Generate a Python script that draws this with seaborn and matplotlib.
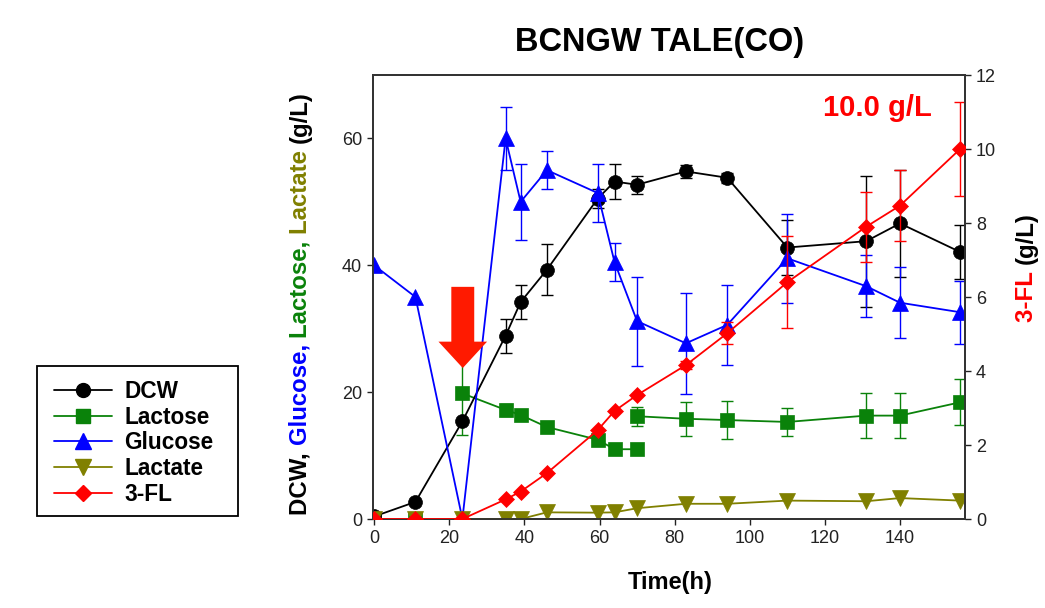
import numpy as np
import pandas as pd
import matplotlib
matplotlib.use("Agg")
import matplotlib.pyplot as plt
from matplotlib.lines import Line2D
from matplotlib.patches import Rectangle
import seaborn as sns

# ---------------- data ----------------
time = [0, 11, 23.5, 35, 39, 46, 59.5, 64, 70, 83, 94, 110, 131, 140, 156]

dcw = [0.4, 2.7, 15.4, 28.9, 34.2, 39.3, 50.5, 53.2, 52.7, 54.8, 53.8, 42.8, 43.8, 46.6, 42.1]
dcw_err = [0, 0, 0, 2.7, 2.7, 4.0, 1.5, 2.7, 1.4, 1.0, 0.8, 4.3, 10.3, 8.4, 4.3]

glucose = [40, 35, 0, 60, 50, 55, 51.4, 40.5, 31.2, 27.7, 30.6, 41.1, 36.7, 34.1, 32.6]
glucose_err = [0, 0, 0, 4.9, 6.0, 3.0, 4.5, 3.0, 7.0, 8.0, 6.3, 7.0, 4.9, 5.6, 5.0]

lactose_t0 = [0, 11]
lactose_v0 = [0, 0]
lactose_t1 = [23.5, 35, 39, 46, 59.5, 64, 70]
lactose_v1 = [19.8, 17.2, 16.4, 14.5, 12.5, 11.0, 11.0]
lactose_e1 = [6.5, 1.0, 0, 0, 0, 0, 0]
lactose_t2 = [70, 83, 94, 110, 131, 140, 156]
lactose_v2 = [16.2, 15.8, 15.6, 15.3, 16.3, 16.3, 18.4]
lactose_e2 = [1.5, 2.7, 3.0, 2.2, 3.6, 3.5, 3.6]

lactate = [0, 0, 0, 0, 0, 1.05, 1.0, 1.05, 1.7, 2.4, 2.4, 2.9, 2.8, 3.3, 2.9]

fl3 = [0, 0, 0, 0.53, 0.74, 1.24, 2.4, 2.92, 3.35, 4.16, 5.02, 6.4, 7.9, 8.47, 10.0]
fl3_err = [0, 0, 0, 0, 0, 0, 0, 0, 0, 0.1, 0.3, 1.25, 0.95, 0.95, 1.27]

xticks = [0, 20, 40, 60, 80, 100, 120, 140]
yticks_left = [0, 20, 40, 60]
yticks_right = [0, 2, 4, 6, 8, 10, 12]

title = "BCNGW TALE(CO)"
labels = ["DCW", "Lactose", "Glucose", "Lactate", "3-FL"]

# ---------------- style ----------------
sns.set_style("ticks")
plt.rcParams["font.family"] = ["Liberation Sans", "DejaVu Sans"]
plt.rcParams["axes.linewidth"] = 1.3
plt.rcParams["axes.edgecolor"] = "#333333"
plt.rcParams["text.color"] = "black"

C_DCW = "black"
C_LAC = "#0a820a"
C_GLU = "#0000ff"
C_LAT = "#808000"
C_FL = "#ff0000"

fig = plt.figure(figsize=(10.45, 6.08), dpi=100)
ax = fig.add_axes([373 / 1045, 1 - 519 / 608, (965 - 373) / 1045, (519 - 75) / 608])
ax2 = ax.twinx()

LW = 1.3


def draw(axis, x, y, color, marker, ms, err=None, z=3):
    sns.lineplot(x=x, y=y, ax=axis, color=color, marker=marker, markersize=ms,
                 markeredgecolor=color, markeredgewidth=0.5, linewidth=LW,
                 sort=False, estimator=None, zorder=z)
    if err is not None:
        xa = np.asarray(x, float)
        ya = np.asarray(y, float)
        ea = np.asarray(err, float)
        m = ea > 0
        axis.errorbar(xa[m], ya[m], yerr=ea[m], fmt="none", ecolor=color,
                      elinewidth=1.0, capsize=4.5, capthick=1.0, zorder=z - 0.5)


draw(ax, time, dcw, C_DCW, "o", 10, dcw_err, z=4)
draw(ax, lactose_t0, lactose_v0, C_LAC, "s", 9.5)
draw(ax, lactose_t1, lactose_v1, C_LAC, "s", 9.5, lactose_e1)
draw(ax, lactose_t2, lactose_v2, C_LAC, "s", 9.5, lactose_e2)
draw(ax, time, glucose, C_GLU, "^", 11, glucose_err, z=5)
draw(ax, time, lactate, C_LAT, "v", 11, z=6)
draw(ax2, time, fl3, C_FL, "D", 8, fl3_err)

ax.set_xlim(-0.3, 157.3)
ax.set_ylim(0, 70)
ax2.set_ylim(0, 12)
ax.set_xticks(xticks)
ax.set_yticks(yticks_left)
ax2.set_yticks(yticks_right)
ax.set_xlabel("")
ax.set_ylabel("")
ax2.set_ylabel("")

tick_font = ["Liberation Sans Narrow", "Liberation Sans", "DejaVu Sans"]
for a in (ax, ax2):
    a.tick_params(axis="both", direction="out", length=4, width=1.0,
                  labelsize=13, colors="#222222", pad=4)
    for lab in a.get_xticklabels() + a.get_yticklabels():
        lab.set_family(tick_font)
for sp in ax.spines.values():
    sp.set_visible(True)
for sp in ax2.spines.values():
    sp.set_visible(True)

# axis label and title
fig.text(0.641, 1 - 582 / 608, "Time(h)", ha="center", va="center",
         fontsize=17, fontweight="bold", color="black")
fig.text(660 / 1045, 1 - 42 / 608, title, ha="center", va="center",
         fontsize=23.5, fontweight="bold", color="black")

# annotation
ax.text(0.852, 0.926, "10.0 g/L", transform=ax.transAxes, ha="center", va="center",
        color=C_FL, fontsize=21, fontweight="bold")
ax.annotate("", xy=(23.6, 23.8), xytext=(23.6, 36.6),
            arrowprops=dict(arrowstyle="simple,head_length=19,head_width=35,tail_width=16.5",
                            mutation_scale=1, color="#ff1a00", shrinkA=0, shrinkB=0,
                            lw=0), zorder=7)

# multicoloured rotated labels
fig.canvas.draw()
renderer = fig.canvas.get_renderer()


def text_width(s, size):
    t = fig.text(0, 0, s + "|", fontsize=size, fontweight="bold")
    w = t.get_window_extent(renderer).width
    t.remove()
    t = fig.text(0, 0, "|", fontsize=size, fontweight="bold")
    w -= t.get_window_extent(renderer).width
    t.remove()
    return w


def vertical_label(pieces, xbase_px, yc_px, size):
    full = "".join(p for p, _ in pieces)
    total = text_width(full.rstrip(), size)
    start = yc_px - total / 2.0
    prefix = ""
    W, H = fig.get_size_inches() * fig.dpi
    for s, col in pieces:
        off = text_width(prefix, size) if prefix else 0.0
        ypix = start + off
        fig.text(xbase_px / W, ypix / H, s, rotation=90, ha="left", va="baseline",
                 rotation_mode="anchor", fontsize=size, fontweight="bold", color=col)
        prefix += s


H = 608
vertical_label([("DCW, ", C_DCW), ("Glucose, ", C_GLU), ("Lactose, ", C_LAC),
                ("Lactate ", C_LAT), ("(g/L)", C_DCW)],
               307, H - 303, 17.3)
vertical_label([("3-FL ", C_FL), ("(g/L)", C_DCW)], 1033, H - 267, 17.3)

# legend (entries) + its outer box
handles = [
    Line2D([], [], color=C_DCW, marker="o", markersize=10, lw=LW, mec=C_DCW),
    Line2D([], [], color=C_LAC, marker="s", markersize=9.5, lw=LW, mec=C_LAC),
    Line2D([], [], color=C_GLU, marker="^", markersize=11, lw=LW, mec=C_GLU),
    Line2D([], [], color=C_LAT, marker="v", markersize=11, lw=LW, mec=C_LAT),
    Line2D([], [], color=C_FL, marker="D", markersize=8, lw=LW, mec=C_FL),
]
leg = fig.legend(handles, labels, loc="upper left",
                 bbox_to_anchor=(38 / 1045, 1 - 364 / 608),
                 frameon=False, prop=dict(weight="bold", size=16.3), handlelength=2.55,
                 handletextpad=0.55, labelspacing=0.12, borderpad=0.7,
                 borderaxespad=0)
fig.patches.append(Rectangle((37 / 1045, 1 - 516 / 608), 201 / 1045, 150 / 608,
                             transform=fig.transFigure, fill=False,
                             edgecolor="black", linewidth=1.3))

fig.savefig("out.png", dpi=100)
